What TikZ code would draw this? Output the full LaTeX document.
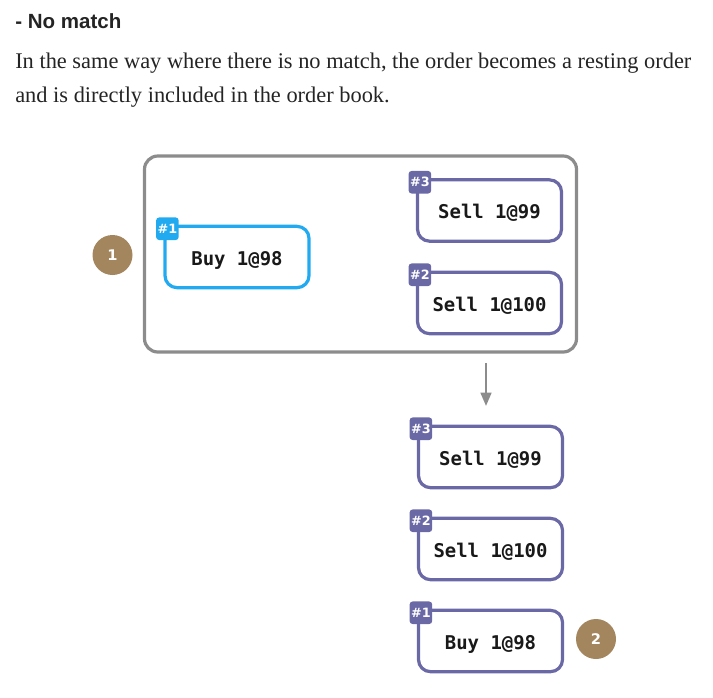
\documentclass[tikz,border=0pt]{standalone}
\usepackage{fontspec}
\setmainfont{Liberation Serif}
\newfontfamily\titlefont{Liberation Sans}
\newfontfamily\monofont{DejaVu Sans Mono}
\newfontfamily\tagfont{DejaVu Sans}
\usetikzlibrary{arrows.meta}
\definecolor{ordpurple}{HTML}{6A69A6}
\definecolor{ordblue}{HTML}{22AAF0}
\definecolor{bookgray}{HTML}{8C8C8C}
\definecolor{stepbrown}{HTML}{A3855E}
\definecolor{txt}{HTML}{242424}
\begin{document}
\begin{tikzpicture}[x=0.75pt,y=-0.75pt,
  ordbox/.style={draw=#1,line width=2.4pt,rounded corners=9pt,fill=white,
    minimum width=108pt,minimum height=46pt,inner sep=0pt,
    text height=13pt,text depth=0.5pt,
    font=\monofont\bfseries\fontsize{14.2}{16}\selectfont,text=black!90},
  tagbox/.style={fill=#1,rounded corners=2.4pt,minimum size=17pt,inner sep=0pt,
    font=\tagfont\bfseries\fontsize{9.6}{10}\selectfont,text=white},
  stepdot/.style={circle,fill=stepbrown,minimum size=30pt,inner sep=0pt,
    font=\tagfont\bfseries\fontsize{11}{12}\selectfont,text=white},
  bookbox/.style={draw=bookgray,line width=2.4pt,rounded corners=10pt,
    minimum width=324pt,minimum height=147pt,inner sep=0pt},
  arr/.style={draw=bookgray,line width=1.8pt,-{Triangle[length=10pt,width=8pt]}}
]
\useasboundingbox (0,0) rectangle (713,697);
% heading and text
\node[anchor=base west,inner sep=0pt,text=txt,font=\titlefont\bfseries\fontsize{15.4}{18}\selectfont] (title) at (15,28) {- No match};
\node[anchor=base west,inner sep=0pt,text=txt,font=\fontsize{16.8}{18}\selectfont] (l1) at (15,68) {In the same way where there is no match, the order becomes a resting order};
\node[anchor=base west,inner sep=0pt,text=txt,font=\fontsize{16.8}{18}\selectfont] (l2) at (15,102) {and is directly included in the order book.};
% order book before
\node[bookbox] (book) at (360.5,254) {};
\node[ordbox=ordblue] (b1) at (237,257) {Buy 1@98};
\node[tagbox=ordblue] (tb1) at ([xshift=3pt,yshift=-3pt]b1.north west) {\#1};
\node[ordbox=ordpurple] (s3) at (489.5,210.5) {Sell 1@99};
\node[tagbox=ordpurple] (ts3) at ([xshift=3pt,yshift=-3pt]s3.north west) {\#3};
\node[ordbox=ordpurple] (s2) at (489.5,303) {Sell 1@100};
\node[tagbox=ordpurple] (ts2) at ([xshift=3pt,yshift=-3pt]s2.north west) {\#2};
\node[stepdot] (c1) at (112.5,255) {1};
% arrow
\coordinate (astart) at (486,363);
\coordinate (aend) at (486,406);
\draw[arr] (astart) -- (aend);
% order book after
\node[ordbox=ordpurple] (n3) at (490.5,457) {Sell 1@99};
\node[tagbox=ordpurple] (tn3) at ([xshift=3pt,yshift=-3pt]n3.north west) {\#3};
\node[ordbox=ordpurple] (n2) at (490.5,549) {Sell 1@100};
\node[tagbox=ordpurple] (tn2) at ([xshift=3pt,yshift=-3pt]n2.north west) {\#2};
\node[ordbox=ordpurple] (n1) at (490.5,641) {Buy 1@98};
\node[tagbox=ordpurple] (tn1) at ([xshift=3pt,yshift=-3pt]n1.north west) {\#1};
\node[stepdot] (c2) at (596,639) {2};
\end{tikzpicture}
\end{document}
